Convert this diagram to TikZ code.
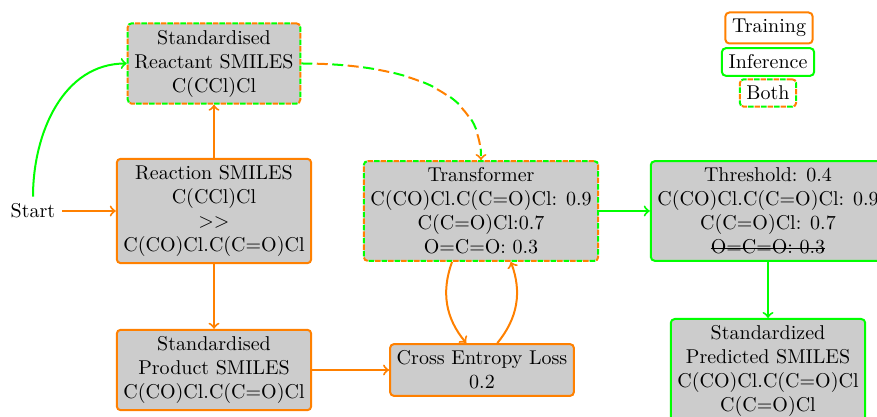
\documentclass[tikz,border=0pt]{standalone}
\definecolor{org}{RGB}{255,128,0}
\definecolor{grn}{RGB}{0,255,0}
\newcommand{\mystrike}[1]{\setbox0\hbox{#1}\rlap{\rule[0.55ex]{\wd0}{0.5pt}}\box0}
\begin{document}
\begin{tikzpicture}[x=0.5pt,y=0.5pt,
  box/.style={rectangle, rounded corners=2pt, fill=black!20, align=center, line width=1pt},
  trbox/.style={box, draw=org},
  infbox/.style={box, draw=grn},
  bothbox/.style={box, draw=org, dash pattern=on 2.75pt off 3.75pt,
     postaction={draw=grn, line width=1pt, dash pattern=on 2.75pt off 3.75pt, dash phase=3.25pt}},
  legtr/.style={trbox, fill=none},
  leginf/.style={infbox, fill=none},
  legboth/.style={bothbox, fill=none},
  ar/.style={->, line width=1pt},
]
\useasboundingbox (0,0) rectangle (877,417);

% legend
\node[legtr] (ltr) at (769,389) {Training};
\node[leginf] (linf) at (768,355) {Inference};
\node[legboth] (lboth) at (768,324) {Both};

% nodes
\node (start) at (33,206) {Start};
\node[bothbox] (reac) at (214,353.5) {Standardised\\Reactant SMILES\\C(CCl)Cl};
\node[trbox] (rxn) at (214,206) {Reaction SMILES\\C(CCl)Cl\\$>>$\\C(CO)Cl.C(C=O)Cl};
\node[trbox] (prod) at (214,47) {Standardised\\Product SMILES\\C(CO)Cl.C(C=O)Cl};
\node[bothbox] (tf) at (481,206) {Transformer\\C(CO)Cl.C(C=O)Cl: 0.9\\C(C=O)Cl:0.7\\O=C=O: 0.3};
\node[trbox] (loss) at (482,47) {Cross Entropy Loss\\0.2};
\node[infbox] (thr) at (768,206) {Threshold: 0.4\\C(CO)Cl.C(C=O)Cl: 0.9\\C(C=O)Cl: 0.7\\\mystrike{O=C=O: 0.3}};
\node[infbox, anchor=north] (pred) at (768,99) {Standardized\\Predicted SMILES\\C(CO)Cl.C(C=O)Cl\\C(C=O)Cl};

% connectors
\draw[ar, org] (start) -- (rxn);
\draw[ar, grn] (start) to[out=90,in=180] (reac);
\draw[ar, org] (rxn) -- (reac);
\draw[ar, org] (rxn) -- (prod);
\draw[ar, org] (prod) -- (loss);
\draw[ar, org] (tf) to[bend right] (loss);
\draw[ar, org] (loss) to[bend right] (tf);
\draw[ar, grn] (tf) -- (thr);
\draw[ar, grn] (thr) -- (pred);
\draw[line width=1pt, grn, dash pattern=on 5.5pt off 10pt, shorten >=2pt] (reac) to[out=0,in=90] (tf);
\draw[ar, org, dash pattern=on 5.5pt off 10pt, dash phase=7.75pt] (reac) to[out=0,in=90] (tf);
\end{tikzpicture}
\end{document}
